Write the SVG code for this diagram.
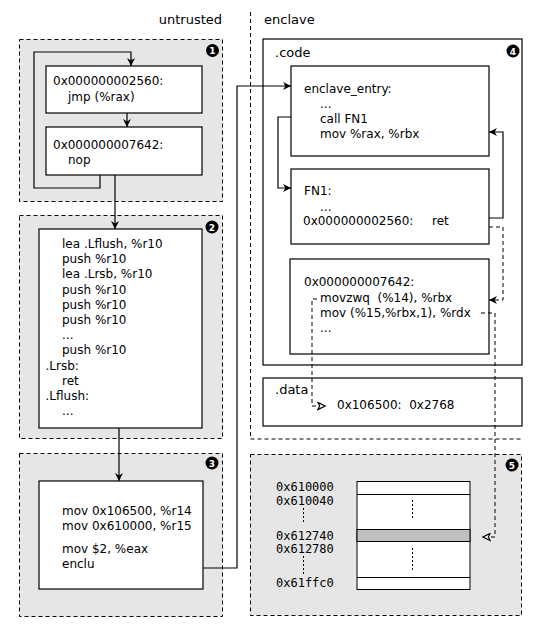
<svg xmlns="http://www.w3.org/2000/svg" width="553" height="625" viewBox="0 0 553 625">
<defs>
<style>
.grp{fill:#e6e6e6;stroke:#000;stroke-width:1;stroke-dasharray:4,3}
.box{fill:#fff;stroke:#000;stroke-width:1.2}
.t{font-family:"DejaVu Sans",sans-serif;font-size:12px;fill:#000;white-space:pre}
.h{font-family:"DejaVu Sans",sans-serif;font-size:13px;fill:#000}
.m{font-family:"DejaVu Sans Mono",monospace;font-size:12px;fill:#000}
.bt{font-family:"DejaVu Sans",sans-serif;font-size:9px;font-weight:bold;fill:#fff;text-anchor:middle}
.c{fill:none;stroke:#000;stroke-width:1.2}
.d{fill:none;stroke:#000;stroke-width:1;stroke-dasharray:4,3}
.dot{fill:none;stroke:#000;stroke-width:1;stroke-dasharray:2,2}
</style>
<marker id="a" viewBox="0 0 10 10" refX="10" refY="5" markerWidth="8" markerHeight="8" orient="auto" markerUnits="userSpaceOnUse">
<path d="M0,0 L10,5 L0,10 L3,5 Z" fill="#000"/>
</marker>
<marker id="o" viewBox="0 0 10 10" refX="10" refY="5" markerWidth="9" markerHeight="9" orient="auto" markerUnits="userSpaceOnUse">
<path d="M1,1 L9,5 L1,9 L3,5 Z" fill="#fff" stroke="#000" stroke-width="1.3"/>
</marker>
</defs>
<rect width="553" height="625" fill="#fff"/>
<text class="h" x="222" y="24" text-anchor="end">untrusted</text>
<text class="h" x="264" y="24">enclave</text>
<path class="d" d="M250.5,12 V439 H522"/>

<g id="group1">
<rect class="grp" x="19.5" y="39.5" width="203" height="162"/>
<circle cx="212.5" cy="50.5" r="6.5"/><text class="bt" x="212.5" y="54">1</text>
</g>
<g id="n2560">
<rect class="box" x="46" y="66" width="156" height="47"/>
<text class="t" x="53" y="85">0x000000002560:</text>
<text class="t" x="68" y="101">jmp (%rax)</text>
</g>
<g id="n7642u">
<rect class="box" x="46" y="127" width="156" height="48"/>
<text class="t" x="53" y="149">0x000000007642:</text>
<text class="t" x="68" y="164">nop</text>
</g>

<g id="group2">
<rect class="grp" x="19.5" y="215.5" width="203" height="223"/>
<circle cx="212" cy="227" r="6.5"/><text class="bt" x="212" y="230.5">2</text>
</g>
<g id="rsb">
<rect class="box" x="39" y="229" width="163" height="199"/>
<text class="t" x="62" y="248">lea .Lflush, %r10</text>
<text class="t" x="62" y="263.2">push %r10</text>
<text class="t" x="62" y="278.4">lea .Lrsb, %r10</text>
<text class="t" x="62" y="293.6">push %r10</text>
<text class="t" x="62" y="308.8">push %r10</text>
<text class="t" x="62" y="324">push %r10</text>
<text class="t" x="62" y="339.2">...</text>
<text class="t" x="62" y="354.4">push %r10</text>
<text class="t" x="45.5" y="369.6">.Lrsb:</text>
<text class="t" x="62" y="384.8">ret</text>
<text class="t" x="45.5" y="400">.Lflush:</text>
<text class="t" x="62" y="415.2">...</text>
</g>

<g id="group3">
<rect class="grp" x="19.5" y="453.5" width="203" height="163"/>
<circle cx="212" cy="463" r="6.5"/><text class="bt" x="212" y="466.5">3</text>
</g>
<g id="enclu">
<rect class="box" x="39" y="481" width="164" height="108"/>
<text class="t" x="62" y="515">mov 0x106500, %r14</text>
<text class="t" x="62" y="530">mov 0x610000, %r15</text>
<text class="t" x="62" y="553">mov $2, %eax</text>
<text class="t" x="62" y="568">enclu</text>
</g>

<g id="code">
<rect class="box" x="263" y="39" width="259" height="326"/>
<text class="h" x="275" y="57">.code</text>
<circle cx="513" cy="51" r="6.5"/><text class="bt" x="513" y="54.5">4</text>
</g>
<g id="entry">
<rect class="box" x="291" y="66" width="198" height="90"/>
<text class="t" x="304" y="92.5">enclave_entry:</text>
<text class="t" x="320" y="107.7">...</text>
<text class="t" x="320" y="122.7">call FN1</text>
<text class="t" x="320" y="137.7">mov %rax, %rbx</text>
</g>
<g id="fn1">
<rect class="box" x="291" y="169" width="198" height="75"/>
<text class="t" x="304" y="195">FN1:</text>
<text class="t" x="320" y="210.5">...</text>
<text class="t" x="303" y="225">0x000000002560:</text>
<text class="t" x="432" y="225">ret</text>
</g>
<g id="n7642e">
<rect class="box" x="290" y="259" width="199" height="95"/>
<text class="t" x="304" y="286">0x000000007642:</text>
<text class="t" x="320" y="301.5" xml:space="preserve">movzwq  (%14), %rbx</text>
<text class="t" x="320" y="316.5">mov (%15,%rbx,1), %rdx</text>
<text class="t" x="320" y="332">...</text>
</g>
<g id="data">
<rect class="box" x="263" y="378" width="259" height="48"/>
<text class="h" x="275" y="394">.data</text>
<text class="t" x="337" y="409" xml:space="preserve">0x106500:  0x2768</text>
</g>

<g id="group5">
<rect class="grp" x="250.5" y="454.5" width="271" height="161"/>
<circle cx="512" cy="465" r="6.5"/><text class="bt" x="512" y="468.5">5</text>
</g>
<g id="memory">
<rect x="357" y="481.5" width="113" height="108" fill="#fff" stroke="#000" stroke-width="1"/>
<rect x="357" y="529.5" width="113" height="12" fill="#bfbfbf" stroke="#000" stroke-width="1"/>
<line x1="357" y1="494.5" x2="470" y2="494.5" stroke="#000" stroke-width="1"/>
<line x1="357" y1="577.5" x2="470" y2="577.5" stroke="#000" stroke-width="1"/>
<line class="dot" x1="412.5" y1="500" x2="412.5" y2="520"/>
<line class="dot" x1="412.5" y1="548" x2="412.5" y2="570"/>
<text class="m" x="276" y="491">0x610000</text>
<text class="m" x="276" y="505">0x610040</text>
<line class="dot" x1="303.5" y1="508" x2="303.5" y2="524"/>
<text class="m" x="276" y="540">0x612740</text>
<text class="m" x="276" y="553">0x612780</text>
<line class="dot" x1="303.5" y1="556" x2="303.5" y2="576"/>
<text class="m" x="276" y="587">0x61ffc0</text>
</g>

<g id="connectors">
<path class="c" d="M100,175 V188 H34 V52 H131 V66" marker-end="url(#a)"/>
<path class="c" d="M127,113 V127" marker-end="url(#a)"/>
<path class="c" d="M115,175 V229" marker-end="url(#a)"/>
<path class="c" d="M119,428 V481" marker-end="url(#a)"/>
<path class="c" d="M203,568 H237 V86 H291" marker-end="url(#a)"/>
<path class="c" d="M291,117 H278 V188 H291" marker-end="url(#a)"/>
<path class="c" d="M489,218 H503 V132 H489" marker-end="url(#a)"/>
<path class="d" d="M489,227 H503 V300 H489" marker-end="url(#a)"/>
<path class="d" d="M317,299 H312 V406 H326" marker-end="url(#o)"/>
<path class="d" d="M481,313 H495 V537 H482" marker-end="url(#o)"/>
</g>
</svg>
